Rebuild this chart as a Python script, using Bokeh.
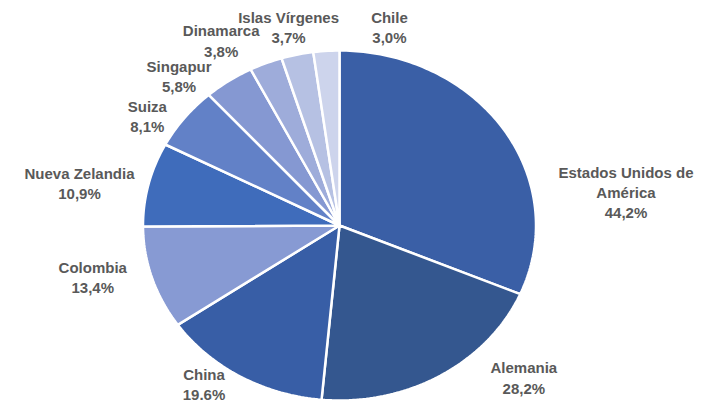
import math
from bokeh.plotting import figure
from bokeh.models import ColumnDataSource, Range1d
from bokeh.core.properties import value
from bokeh.embed import file_html
from bokeh.resources import INLINE

# ---- data ----
countries = ["Estados Unidos de\nAmérica", "Alemania", "China", "Colombia", "Nueva Zelandia",
             "Suiza", "Singapur", "Dinamarca", "Islas Vírgenes", "Chile"]
values = [44.2, 28.2, 19.6, 13.4, 10.9, 8.1, 5.8, 3.8, 3.7, 3.0]
pct_labels = ["44,2%", "28,2%", "19.6%", "13,4%", "10,9%", "8,1%", "5,8%", "3,8%", "3,7%", "3,0%"]
colors = ["#3A5FA6", "#34578F", "#385EA6", "#879AD3", "#3F6CBB",
          "#6281C7", "#8598D2", "#9EACDA", "#B6C1E3", "#CDD4EC"]

# label placement (layout): radial factor and angular nudge (deg) from slice middle
label_r = [1.47, 1.28, 1.14, 1.29, 1.345, 1.16, 1.18, 1.215, 1.16, 1.16]
label_dang = [26.1, -16.3, 6.9, 4.2, -3.3, -5.4, -9.5, -7.7, -0.5, 16.5]

W, H = 704, 404
cx_px, cy_px = 339, 225      # pie centre in canvas pixels
rx_px, ry_px = 196.5, 175    # pie radii (px)

p = figure(width=W, height=H, output_backend="svg", toolbar_location=None,
           x_range=Range1d(-cx_px / rx_px, (W - cx_px) / rx_px),
           y_range=Range1d((cy_px - H) / ry_px, cy_px / ry_px),
           min_border=0)
p.axis.visible = False
p.grid.visible = False
p.outline_line_color = None
p.background_fill_color = "white"
p.border_fill_color = "white"

total = sum(values)
xs, ys = [], []
lx, ly, ltext = [], [], []
cum = 0.0
for i, v in enumerate(values):
    a0 = cum / total * 2 * math.pi
    a1 = (cum + v) / total * 2 * math.pi
    n = max(4, int((a1 - a0) / (2 * math.pi) * 360))
    px = [0.0]
    py = [0.0]
    for k in range(n + 1):
        a = a0 + (a1 - a0) * k / n
        px.append(math.sin(a))
        py.append(math.cos(a))
    xs.append(px)
    ys.append(py)
    mid = (a0 + a1) / 2 + math.radians(label_dang[i])
    lx.append(label_r[i] * math.sin(mid))
    ly.append(label_r[i] * math.cos(mid))
    ltext.append(countries[i] + "\n" + pct_labels[i])
    cum += v

p.patches(xs=xs, ys=ys, fill_color=colors, line_color="white", line_width=2.5)

src = ColumnDataSource(dict(x=lx, y=ly, t=ltext))
p.text(x="x", y="y", text="t", source=src, text_align="center", text_baseline="middle",
       text_font=value("Liberation Sans"), text_font_style="bold", text_font_size="15px",
       text_color="#595959", text_line_height=1.2)

open("out.html", "w").write(file_html(p, INLINE))
